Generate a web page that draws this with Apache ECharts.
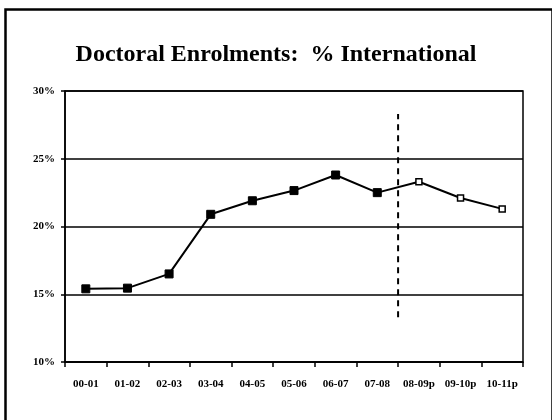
<!DOCTYPE html>
<html>
<head>
<meta charset="utf-8">
<script src="https://cdn.jsdelivr.net/npm/echarts@6/dist/echarts.min.js"></script>
<style>
  html, body { margin: 0; padding: 0; background: #fff; }
  #chart { width: 552px; height: 420px; }
</style>
</head>
<body>
<div id="chart"></div>
<script>
// academic years, "p" = projected
const years = ["00-01", "01-02", "02-03", "03-04", "04-05", "05-06", "06-07", "07-08", "08-09p", "09-10p", "10-11p"];
// % international doctoral enrolments
const pctInternational = [15.4, 15.45, 16.5, 20.9, 21.9, 22.65, 23.8, 22.5, 23.3, 22.1, 21.3];
// index of the first projected year
const firstProjected = 8;
// vertical extent of the dashed separator (in %)
const dashRange = [13.3, 28.3];
const yTicks = [10, 15, 20, 25, 30];

const chart = echarts.init(document.getElementById("chart"));

const serif = "'Liberation Serif', 'Times New Roman', serif";

const lineData = pctInternational.map((v, i) => {
  if (i < firstProjected) return v;
  return {
    value: v,
    symbolSize: 6,
    itemStyle: { color: "#fff", borderColor: "#000", borderWidth: 1.5 }
  };
});

const option = {
  animation: false,
  backgroundColor: "#fff",
  graphic: [
    {
      type: "rect",
      left: 3,
      top: 7,
      shape: { width: 547, height: 430 },
      style: { fill: "none", stroke: "#000", lineWidth: 2.5 },
      silent: true
    }
  ],
  title: {
    text: "Doctoral Enrolments:  % International",
    left: "center",
    top: 38,
    textStyle: {
      fontFamily: serif,
      fontWeight: "bold",
      fontSize: 24,
      color: "#000"
    }
  },
  grid: {
    left: 65,
    right: 29,
    top: 91,
    bottom: 58,
    show: true,
    borderColor: "#000",
    borderWidth: 1.5
  },
  xAxis: [
    {
      type: "category",
      data: years,
      boundaryGap: true,
      axisLine: { lineStyle: { color: "#000", width: 1.5 } },
      axisTick: { show: true, length: 5, lineStyle: { color: "#000", width: 1.5 } },
      axisLabel: {
        color: "#000",
        fontFamily: serif,
        fontWeight: "bold",
        fontSize: 11,
        margin: 17,
        interval: 0
      }
    },
    {
      type: "value",
      min: 0,
      max: years.length,
      show: false
    }
  ],
  yAxis: {
    type: "value",
    min: yTicks[0],
    max: yTicks[yTicks.length - 1],
    interval: 5,
    axisLine: { show: true, lineStyle: { color: "#000", width: 1.5 } },
    axisTick: { show: true, length: 4, lineStyle: { color: "#000", width: 1.5 } },
    axisLabel: {
      formatter: "{value}%",
      color: "#000",
      fontFamily: serif,
      fontWeight: "bold",
      fontSize: 11,
      margin: 10
    },
    splitLine: { show: true, lineStyle: { color: "#000", width: 1.5 } }
  },
  series: [
    {
      type: "line",
      data: lineData,
      xAxisIndex: 0,
      symbol: "rect",
      symbolSize: 8,
      showAllSymbol: true,
      lineStyle: { color: "#000", width: 2 },
      itemStyle: { color: "#000", borderColor: "#000" },
      z: 3
    },
    {
      type: "line",
      xAxisIndex: 1,
      data: [[firstProjected, dashRange[0]], [firstProjected, dashRange[1]]],
      symbol: "none",
      lineStyle: { color: "#000", width: 2, type: [6, 5] },
      z: 2
    }
  ]
};

chart.setOption(option);
</script>
</body>
</html>
